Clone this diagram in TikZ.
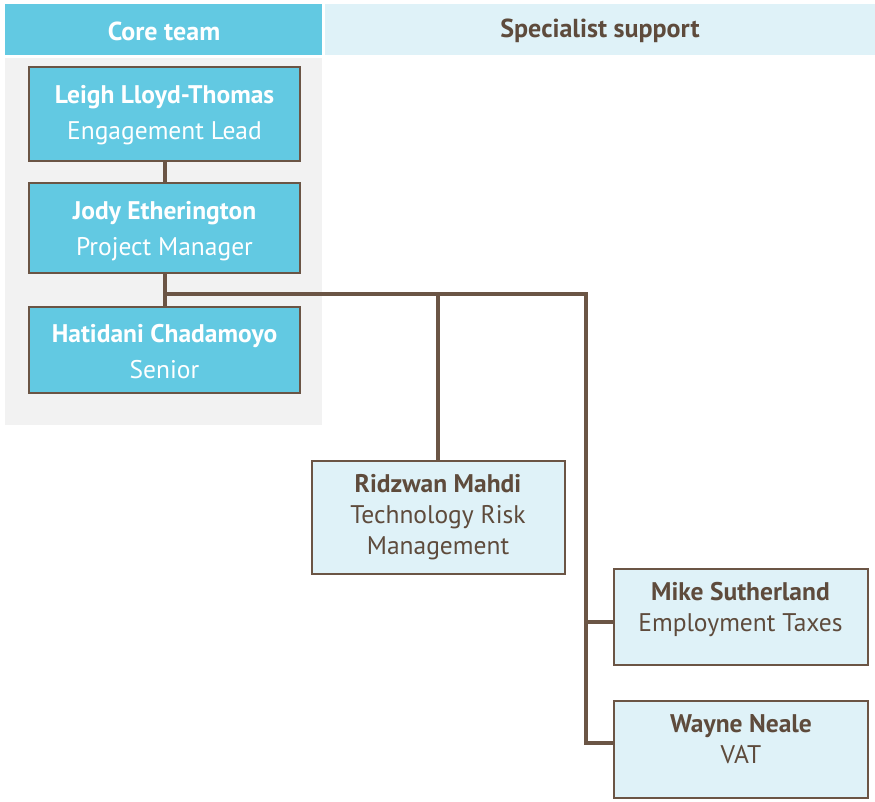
\documentclass[tikz,border=0pt]{standalone}
\usepackage{fontspec}
\setmainfont{PT Sans}
\definecolor{coreblue}{HTML}{62C9E2}
\definecolor{palecyan}{HTML}{DFF2F8}
\definecolor{panelgray}{HTML}{F2F2F2}
\definecolor{bark}{HTML}{6B5545}
\definecolor{inkbrown}{HTML}{5E4B3C}
\tikzset{
 headcell/.style={minimum height=51pt,font=\bfseries\fontsize{26}{30}\selectfont},
 corebox/.style={draw=bark,line width=2pt,fill=coreblue,minimum width=271pt},
 specbox/.style={draw=bark,line width=2pt,fill=palecyan,minimum width=253pt},
 coretext/.style={text=white,align=center,font=\fontsize{25.5}{36}\selectfont},
 spectext/.style={text=inkbrown,align=center,font=\fontsize{25.5}{31}\selectfont},
 link/.style={draw=bark,line width=4pt}
}
\begin{document}
\begin{tikzpicture}[x=1pt,y=-1pt,line join=miter]
 \useasboundingbox (0,0) rectangle (875,801);
 % column heads and the grey core panel
 \fill[coreblue] (5,4) rectangle (322,55);
 \fill[palecyan] (325,4) rectangle (875,55);
 \fill[panelgray] (5,58) rectangle (322,425);
 \node[headcell,text=white] (corehead) at (164,31) {Core team};
 \node[headcell,text=inkbrown] (spechead) at (600,31) {Specialist support};
 % core team
 \node[corebox,minimum height=94pt] (leigh) at (164.5,114) {};
 \node[corebox,minimum height=90pt] (jody) at (164.5,228) {};
 \node[corebox,minimum height=86pt] (hatidani) at (164.5,350) {};
 \node[coretext] (leigh-t) at ([yshift=-1pt]leigh) {\textbf{Leigh Lloyd-Thomas}\\Engagement Lead};
 \node[coretext] (jody-t) at ([yshift=-3pt]jody) {\textbf{Jody Etherington}\\Project Manager};
 \node[coretext] (hatidani-t) at ([yshift=-2pt]hatidani) {\textbf{Hatidani Chadamoyo}\\Senior};
 % specialist support
 \node[specbox,minimum height=113pt] (ridzwan) at (438,517.5) {};
 \node[specbox,minimum width=254pt,minimum height=96pt] (mike) at (740.5,617) {};
 \node[specbox,minimum width=254pt,minimum height=97pt] (wayne) at (741,749.5) {};
 \node[spectext] (ridzwan-t) at (ridzwan) {\textbf{Ridzwan Mahdi}\\Technology Risk\\Management};
 \node[spectext] (mike-t) at ([yshift=8pt]mike) {\textbf{Mike Sutherland}\\Employment Taxes};
 \node[spectext] (wayne-t) at ([yshift=10pt]wayne) {\textbf{Wayne Neale}\\VAT};
 % reporting lines
 \coordinate (split) at (165,294);
 \coordinate (corner) at (586,294);
 \draw[link] (leigh.south) -- (jody.north);
 \draw[link] (jody.south) -- (hatidani.north);
 \draw[link] (split) -- (corner) -- (corner |- 0,743) -- ([yshift=6.5pt]wayne.west);
 \draw[link] (ridzwan.north) -- (ridzwan.north |- split);
 \draw[link] (corner |- 0,622) -- ([yshift=-5pt]mike.west);
\end{tikzpicture}
\end{document}
